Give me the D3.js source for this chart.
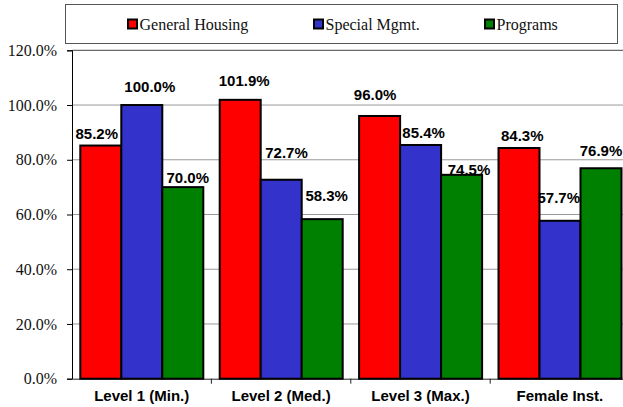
<!DOCTYPE html>
<html>
<head>
<meta charset="utf-8">
<script src="https://cdn.jsdelivr.net/npm/d3@7"></script>
<style>
  body { margin: 0; background: #fff; }
  svg { display: block; }
</style>
</head>
<body>
<svg></svg>
<script>
var categories = ["Level 1 (Min.)", "Level 2 (Med.)", "Level 3 (Max.)", "Female Inst."];
var seriesNames = ["General Housing", "Special Mgmt.", "Programs"];
var generalHousing = [85.2, 101.9, 96.0, 84.3];
var specialMgmt = [100.0, 72.7, 85.4, 57.7];
var programs = [70.0, 58.3, 74.5, 76.9];
var yTicks = [0, 20, 40, 60, 80, 100, 120];

var colors = ["#ff0000", "#3333cc", "#008000"];
// label nudges [dx, gap above bar] per series, per category
var labelShift = [
  [[-4, 6.5], [4, 14], [-4.5, 16], [3.3, 7.3]],
  [[8, 13.3], [5.3, 22], [3, 7.3], [-1.2, 17.5]],
  [[5, 4.4], [4.5, 18], [7.4, 0.3], [0, 12.2]]
];

var width = 623;
var height = 407;
var left = 72;
var top0 = 50.3;
var bottom = 378.7;

var values = [generalHousing, specialMgmt, programs];
var data = [];
categories.forEach(function(c, i) {
  seriesNames.forEach(function(s, j) {
    data.push({ cat: c, series: s, value: values[j][i], si: j, ci: i });
  });
});

var svg = d3.select("svg")
    .attr("width", width)
    .attr("height", height);

var xScale = d3.scaleBand()
               .domain(categories)
               .range([left, left + 4 * 139.4]);

var inner = d3.scaleBand()
              .domain(seriesNames)
              .range([8.3, 131.3]);

var yScale = d3.scaleLinear()
               .domain([0, 120])
               .range([bottom, top0]);

// gridlines
svg.append("g")
  .selectAll("line")
  .data(yTicks.filter(d => d > 0 && d < 120))
  .enter()
  .append("line")
    .attr("x1", left)
    .attr("x2", width)
    .attr("y1", d => yScale(d))
    .attr("y2", d => yScale(d))
    .attr("stroke", "#999")
    .attr("stroke-width", 1);

// top border
svg.append("line")
    .attr("x1", left).attr("x2", width)
    .attr("y1", yScale(120)).attr("y2", yScale(120))
    .attr("stroke", "#444");

// y axis
var yAxis = d3.axisLeft(yScale)
              .tickValues(yTicks)
              .tickSize(5)
              .tickFormat(d => d3.format(".1f")(d) + "%");

var yg = svg.append("g")
    .attr("transform", "translate(" + left + ",0)")
    .call(yAxis);
yg.select(".domain").attr("stroke", "#000");
yg.selectAll(".tick line").attr("stroke", "#000");
yg.selectAll(".tick text")
    .attr("x", -15)
    .style("font-family", "'Liberation Serif', 'Times New Roman', serif")
    .style("font-size", "16px")
    .attr("fill", "#111");

// x axis
var xAxis = d3.axisBottom(xScale)
              .tickSize(0)
              .tickSizeOuter(0);

var xg = svg.append("g")
    .attr("transform", "translate(0," + bottom + ")")
    .call(xAxis);
xg.select(".domain").attr("stroke", "#222");
xg.selectAll(".tick text")
    .attr("y", 22.3)
    .attr("dy", 0)
    .style("font-family", "'Liberation Sans', Arial, sans-serif")
    .style("font-size", "15px")
    .style("font-weight", "bold")
    .attr("fill", "#000");

// tick marks between categories
xg.selectAll("line.sep")
  .data(categories.slice(1))
  .enter()
  .append("line")
    .attr("class", "sep")
    .attr("x1", d => xScale(d))
    .attr("x2", d => xScale(d))
    .attr("y1", 0)
    .attr("y2", 5)
    .attr("stroke", "#222");

// bars
svg.append("g")
  .selectAll("rect")
  .data(data)
  .enter()
  .append("rect")
    .attr("x", d => xScale(d.cat) + inner(d.series))
    .attr("y", d => yScale(d.value))
    .attr("width", inner.bandwidth())
    .attr("height", d => bottom - yScale(d.value))
    .attr("fill", d => colors[d.si])
    .attr("stroke", "#000")
    .attr("stroke-width", 2);

// value labels
svg.append("g")
  .selectAll("text")
  .data(data)
  .enter()
  .append("text")
    .text(d => d3.format(".1f")(d.value) + "%")
    .attr("x", d => xScale(d.cat) + inner(d.series) + inner.bandwidth() / 2 + labelShift[d.si][d.ci][0])
    .attr("y", d => yScale(d.value) - labelShift[d.si][d.ci][1])
    .attr("text-anchor", "middle")
    .style("font-family", "'Liberation Sans', Arial, sans-serif")
    .style("font-size", "15px")
    .style("font-weight", "bold")
    .attr("fill", "#000");

// legend
svg.append("rect")
    .attr("x", 65.5)
    .attr("y", 4.5)
    .attr("width", 552)
    .attr("height", 39)
    .attr("fill", "#fff")
    .attr("stroke", "#555");

var legendX = [128, 314, 485];
var legend = svg.append("g")
  .selectAll("g")
  .data(seriesNames)
  .enter()
  .append("g")
    .attr("transform", (d, i) => "translate(" + legendX[i] + ",19.5)");

legend.append("rect")
    .attr("width", 9)
    .attr("height", 9)
    .attr("fill", (d, i) => colors[i])
    .attr("stroke", "#000")
    .attr("stroke-width", 2);

legend.append("text")
    .text(d => d)
    .attr("x", 11.5)
    .attr("y", 10)
    .style("font-family", "'Liberation Serif', 'Times New Roman', serif")
    .style("font-size", "16px")
    .attr("fill", "#111");
</script>
</body>
</html>
